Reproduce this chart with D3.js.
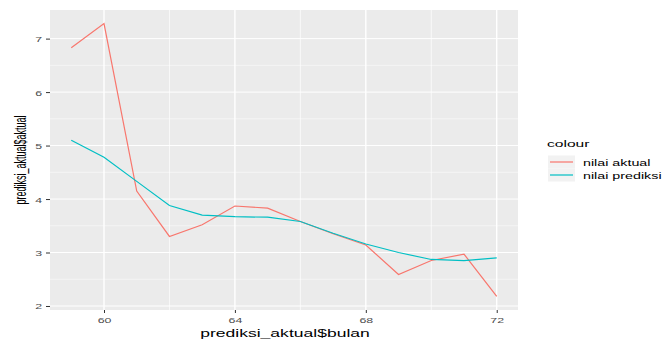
<!DOCTYPE html>
<html><head><meta charset="utf-8">
<script src="https://cdn.jsdelivr.net/npm/d3@7"></script>
<style>body{margin:0;background:#fff}svg{display:block}text{font-family:"Liberation Sans",Arial,sans-serif}</style>
</head><body>
<script>
const months = [59,60,61,62,63,64,65,66,67,68,69,70,71,72];
const aktual = [6.83,7.28,4.15,3.3,3.52,3.87,3.83,3.58,3.35,3.14,2.59,2.85,2.97,2.18];
const prediksi = [5.1,4.78,4.33,3.88,3.7,3.67,3.66,3.58,3.36,3.16,3.0,2.87,2.85,2.9];
const xTicks = [60,64,68,72];
const yTicks = [2,3,4,5,6,7];
const seriesNames = ["nilai aktual","nilai prediksi"];
const colors = ["#F8766D","#00BFC4"];

const W=669,H=342, SX=1.3, SY=0.75;
const pl=50, pr=518, pt=10, pb=310;
const svg=d3.select("body").append("svg").attr("width",W).attr("height",H);

const xe=d3.extent(months), xr=xe[1]-xe[0];
const x=d3.scaleLinear().domain([xe[0]-0.05*xr, xe[1]+0.05*xr]).range([pl,pr]);
const all=aktual.concat(prediksi);
const ye=d3.extent(all), yr=ye[1]-ye[0];
const y=d3.scaleLinear().domain([ye[0]-0.05*yr, ye[1]+0.05*yr]).range([pb,pt]);

svg.append("rect").attr("x",pl).attr("y",pt).attr("width",pr-pl).attr("height",pb-pt).attr("fill","#EBEBEB");
const g=svg.append("g");
const xMinor=[62,66,70], yMinor=[2.5,3.5,4.5,5.5,6.5];
g.selectAll(".xm").data(xMinor).join("line").attr("x1",d=>x(d)).attr("x2",d=>x(d)).attr("y1",pt).attr("y2",pb).attr("stroke","#fff").attr("stroke-width",0.7);
g.selectAll(".ym").data(yMinor).join("line").attr("y1",d=>y(d)).attr("y2",d=>y(d)).attr("x1",pl).attr("x2",pr).attr("stroke","#fff").attr("stroke-width",0.5);
g.selectAll(".xM").data(xTicks).join("line").attr("x1",d=>x(d)).attr("x2",d=>x(d)).attr("y1",pt).attr("y2",pb).attr("stroke","#fff").attr("stroke-width",1.4);
g.selectAll(".yM").data(yTicks).join("line").attr("y1",d=>y(d)).attr("y2",d=>y(d)).attr("x1",pl).attr("x2",pr).attr("stroke","#fff").attr("stroke-width",1);

const line=d3.line().x((d,i)=>x(months[i])).y(d=>y(d));
[aktual,prediksi].forEach((s,k)=>{
  svg.append("path").datum(s).attr("d",line).attr("fill","none").attr("stroke",colors[k]).attr("stroke-width",1.2);
});

const xa=svg.append("g").attr("transform",`translate(0,${pb})`).call(d3.axisBottom(x).tickValues(xTicks).tickSize(3).tickFormat(d3.format("d")));
xa.select(".domain").remove();
xa.selectAll(".tick line").attr("stroke","#333");
xa.selectAll(".tick text").attr("y",0).attr("dy",null).attr("transform",`translate(0,13) scale(${SX},${SY})`).attr("font-size",9.5).attr("fill","#4D4D4D");
const ya=svg.append("g").attr("transform",`translate(${pl},0)`).call(d3.axisLeft(y).tickValues(yTicks).tickSize(4).tickFormat(d3.format("d")));
ya.select(".domain").remove();
ya.selectAll(".tick line").attr("stroke","#333");
ya.selectAll(".tick text").attr("x",0).attr("dy",null).attr("transform",`translate(-8,3) scale(${SX},${SY})`).attr("font-size",9.5).attr("fill","#4D4D4D");

svg.append("text").attr("transform",`translate(${(pl+pr)/2 + 1},337) scale(${SX},${SY})`).attr("text-anchor","middle").attr("font-size",13.5).attr("fill","#000").text("prediksi_aktual$bulan");
svg.append("text").attr("transform",`translate(26,${(pt+pb)/2}) scale(${SX},${SY}) rotate(-90)`).attr("text-anchor","middle").attr("font-size",12).attr("fill","#000").text("prediksi_aktual$aktual");

const lg=svg.append("g");
lg.append("text").attr("transform",`translate(547,147) scale(${SX},${SY})`).attr("font-size",12).text("colour");
seriesNames.forEach((n,k)=>{
  const cy=162+k*13;
  lg.append("rect").attr("x",548).attr("y",cy-6.5).attr("width",27).attr("height",13).attr("fill","#F2F2F2");
  lg.append("line").attr("x1",550).attr("x2",573).attr("y1",cy).attr("y2",cy).attr("stroke",colors[k]).attr("stroke-width",1.2);
  lg.append("text").attr("transform",`translate(583,${cy+3.5}) scale(${SX},${SY})`).attr("font-size",11).attr("fill","#000").text(n);
});
</script>
</body></html>
